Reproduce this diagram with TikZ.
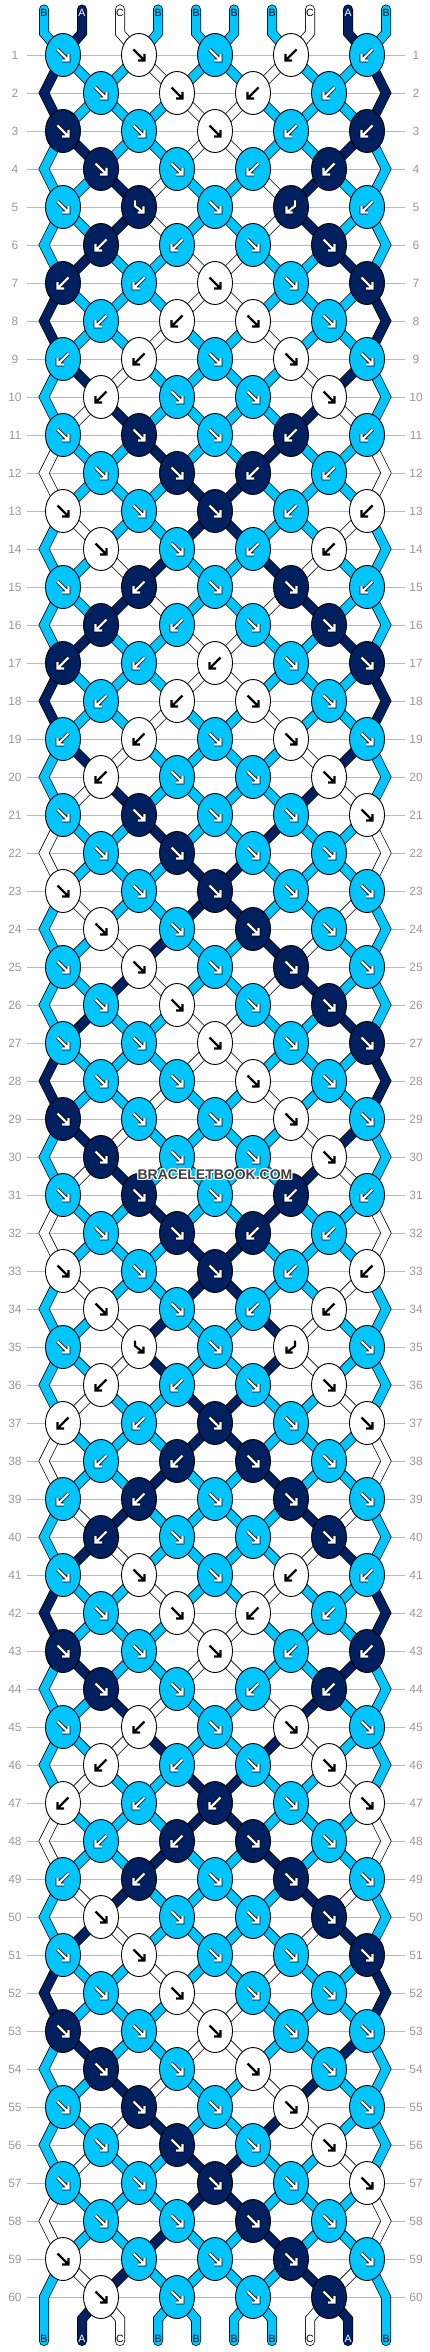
\documentclass[tikz,border=0pt]{standalone}
\usepackage{fontspec}
\setmainfont{Liberation Sans}
\usepackage{tikz}
\usetikzlibrary{shapes.geometric}
\definecolor{bbcyan}{RGB}{0,197,255}
\definecolor{bbnavy}{HTML}{002060}
\definecolor{wmgray}{HTML}{404040}
\colorlet{strA}{bbnavy}
\colorlet{strB}{bbcyan}
\colorlet{strC}{white}
\colorlet{txtA}{white}
\colorlet{txtB}{black}
\colorlet{txtC}{black}
% colour letter of the string at a position
\newcommand\getstr[1]{\csname strc#1\endcsname}
\newcommand\setstr[2]{\expandafter\xdef\csname strc#1\endcsname{#2}}
% F forward, B backward, f forward-backward, b backward-forward
\newcommand\knotrows{{F,F,F,B,B},{F,F,B,B},{F,F,F,B,B},{F,F,B,B},{F,f,F,b,B},
  {B,B,F,F},{B,B,F,F,F},{B,B,F,F},{B,B,F,F,F},{B,F,F,F},
  {F,F,F,B,B},{F,F,B,B},{F,F,F,B,B},{F,F,B,B},{F,B,F,F,B},
  {B,B,F,F},{B,B,B,F,F},{B,B,F,F},{B,B,F,F,F},{B,F,F,F},
  {F,F,F,F,F},{F,F,F,F},{F,F,F,F,F},{F,F,F,F},{F,F,F,F,F},
  {F,F,F,F},{F,F,F,F,F},{F,F,F,F},{F,F,F,F,F},{F,F,F,F},
  {F,F,F,B,B},{F,F,B,B},{F,F,F,B,B},{F,F,B,B},{F,f,F,b,F},
  {B,B,F,F},{B,B,F,F,F},{B,B,F,F},{B,B,F,F,F},{B,F,F,F},
  {F,F,F,B,B},{F,F,B,B},{F,F,F,B,B},{F,F,B,B},{F,B,F,F,F},
  {B,B,F,F},{B,B,B,F,F},{B,B,F,F},{B,B,F,F,F},{F,F,F,F},
  {F,F,F,F,F},{F,F,F,F},{F,F,F,F,F},{F,F,F,F},{F,F,F,F,F},
  {F,F,F,F},{F,F,F,F,F},{F,F,F,F},{F,F,F,F,F},{F,F,F,F}}

\begin{document}
\begin{tikzpicture}[x=1pt,y=-1pt]
\tikzset{knot/.style={ellipse,draw=black,line width=0.9pt,minimum width=35pt,minimum height=43pt,inner sep=0pt},
  band/.style={draw=black,line width=0.75pt,double=str#1,double distance=8.5pt,line cap=round,line join=miter},
  rowline/.style={draw=black!28,line width=0.8pt},
  rownum/.style={text=black!40,font=\fontsize{12}{14}\selectfont,inner sep=0pt},
  endlabel/.style={font=\fontsize{10.5}{12}\selectfont,inner sep=0pt},
  watermark/.style={font=\bfseries\fontsize{14}{16}\selectfont,inner sep=0pt},
  haloA/.style={draw=black,line width=3.6pt},haloB/.style={draw=black,line width=3.6pt},haloC/.style={draw=none},
  lineA/.style={draw=white,line width=2.2pt},lineB/.style={draw=white,line width=2.2pt},lineC/.style={draw=black,line width=2.2pt},
  pics/glyphF/.style={code={\draw[#1] (-5.5,-5.5) -- (5.5,5.5) (-1,5.5) -- (5.5,5.5) -- (5.5,-1);}},
  pics/glyphB/.style={code={\draw[#1] (5.5,-5.5) -- (-5.5,5.5) (1,5.5) -- (-5.5,5.5) -- (-5.5,-1);}},
  pics/glyphf/.style={code={\draw[#1] (-4,-6.5) -- (-4,-1) -- (4.5,5.5) (-1.5,5.5) -- (4.5,5.5) -- (4.5,-0.5);}},
  pics/glyphb/.style={code={\draw[#1] (4,-6.5) -- (4,-1) -- (-4.5,5.5) (1.5,5.5) -- (-4.5,5.5) -- (-4.5,-0.5);}}}

\useasboundingbox (0,0) rectangle (430,2352);
\fill[white] (0,0) rectangle (430,2352);

\foreach \rn in {1,...,60}{
  \node[rownum] (nl-\rn) at (15,{55+38*(\rn-1)}) {\rn};
  \node[rownum] (nr-\rn) at (416,{55+38*(\rn-1)}) {\rn};
  \draw[rowline] (27,{55+38*(\rn-1)}) -- (405,{55+38*(\rn-1)});
}

% strings at the top
\foreach \lett [count=\i] in {B,A,C,B,B,B,B,C,A,B}{
  \setstr{\i}{\lett}
  \coordinate (tend-\i) at ({44+38*(\i-1)},9.5);
  \coordinate (tbend-\i) at ({44+38*(\i-1)},33);
}

% first pass: follow the strings and draw them
\foreach \ks [count=\rn] in \knotrows {
  \pgfmathtruncatemacro\rp{\rn-1}
  \pgfmathtruncatemacro\rq{\rn-2}
  \ifodd\rn\else
    \coordinate (eL-\rn) at (44,{55+38*\rp});
    \coordinate (eR-\rn) at (386,{55+38*\rp});
  \fi
  \foreach \kt [count=\k] in \ks {
    \ifodd\rn \pgfmathtruncatemacro\posL{2*\k-1}\else \pgfmathtruncatemacro\posL{2*\k}\fi
    \pgfmathtruncatemacro\posR{\posL+1}
    \edef\lc{\getstr{\posL}}\edef\rc{\getstr{\posR}}
    \def\swapflag{0}
    \if\kt F\edef\kc{\lc}\def\swapflag{1}\fi
    \if\kt B\edef\kc{\rc}\def\swapflag{1}\fi
    \if\kt f\edef\kc{\lc}\fi
    \if\kt b\edef\kc{\rc}\fi
    \expandafter\xdef\csname kcol\rn-\k\endcsname{\kc}
    \coordinate (k-\rn-\k) at ({25+38*\posL},{55+38*\rp});
    \ifodd\rn
      \ifnum\rn=1
        \draw[band=\lc] (tend-\posL) -- (tbend-\posL) -- (k-1-\k);
        \draw[band=\rc] (tend-\posR) -- (tbend-\posR) -- (k-1-\k);
      \else
        \pgfmathtruncatemacro\kk{\k-1}
        \ifnum\k=1
          \draw[band=\lc] (k-\rq-1) -- (eL-\rp) -- (k-\rn-1);
        \else
          \draw[band=\lc] (k-\rp-\kk) -- (k-\rn-\k);
        \fi
        \ifnum\k=5
          \draw[band=\rc] (k-\rq-5) -- (eR-\rp) -- (k-\rn-5);
        \else
          \draw[band=\rc] (k-\rp-\k) -- (k-\rn-\k);
        \fi
      \fi
    \else
      \pgfmathtruncatemacro\kk{\k+1}
      \draw[band=\lc] (k-\rp-\k) -- (k-\rn-\k);
      \draw[band=\rc] (k-\rp-\kk) -- (k-\rn-\k);
    \fi
    \ifnum\swapflag=1 \setstr{\posL}{\rc}\setstr{\posR}{\lc}\fi
  }
}

% strings at the bottom
\foreach \i in {1,...,10}{
  \edef\cc{\getstr{\i}}
  \coordinate (bb-\i) at ({44+38*(\i-1)},2319);
  \coordinate (be-\i) at ({44+38*(\i-1)},2341);
  \pgfmathtruncatemacro\kk{\i/2}
  \ifnum\i=1
    \draw[band=\cc] (k-59-1) -- (eL-60) -- (be-1);
  \else\ifnum\i=10
    \draw[band=\cc] (k-59-5) -- (eR-60) -- (be-10);
  \else
    \draw[band=\cc] (k-60-\kk) -- (bb-\i) -- (be-\i);
  \fi\fi
}

% second pass: the knots
\foreach \ks [count=\rn] in \knotrows {
  \foreach \kt [count=\k] in \ks {
    \edef\kc{\csname kcol\rn-\k\endcsname}
    \node[knot,fill=str\kc] (knot-\rn-\k) at (k-\rn-\k) {};
    \edef\doglyph{\noexpand\pic at (knot-\rn-\k) {glyph\kt=halo\kc};
      \noexpand\pic at (knot-\rn-\k) {glyph\kt=line\kc};}
    \doglyph
  }
}

\foreach \lett [count=\i] in {B,A,C,B,B,B,B,C,A,B}
  \node[endlabel,text=txt\lett] (lt-\i) at ({44+38*(\i-1)},13) {\lett};
\foreach \i in {1,...,10}{
  \edef\cc{\getstr{\i}}
  \node[endlabel,text=txt\cc] (lb-\i) at ({44+38*(\i-1)},2339) {\cc};
}

\foreach \dx/\dy [count=\n] in {1/0,-1/0,0/1,0/-1,1/1,-1/1,1/-1,-1/-1}
  \node[watermark,text=white] (wmh-\n) at ({215+\dx},{1175+\dy}) {BRACELETBOOK.COM};
\node[watermark,text=wmgray] (wm) at (215,1175) {BRACELETBOOK.COM};
\end{tikzpicture}
\end{document}
